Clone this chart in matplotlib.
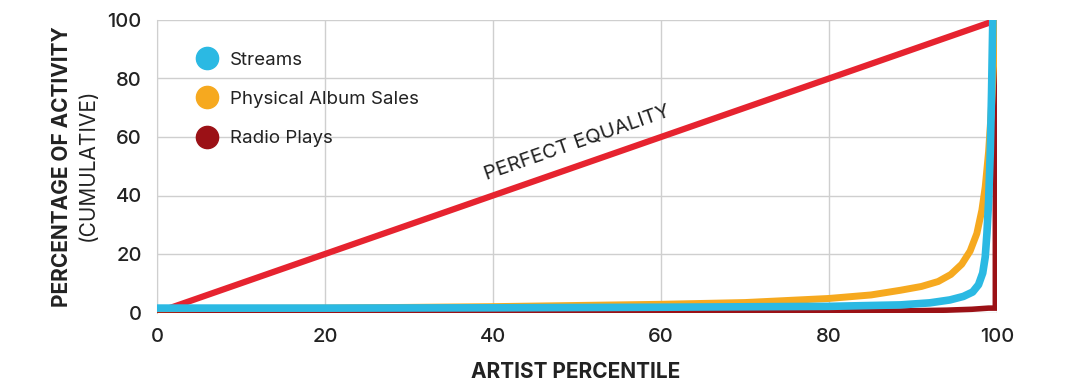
import numpy as np
import matplotlib.pyplot as plt
from matplotlib.lines import Line2D

plt.rcParams['font.family'] = ['Inter', 'DejaVu Sans']

# cumulative share of activity by artist percentile
pct_streams = [0, 20, 40, 60, 80, 88.5, 92, 94.4, 96, 97.1, 97.8, 98.3, 98.6, 98.8, 99.0, 99.2, 99.35, 99.5]
streams = [1.5, 1.5, 1.6, 1.8, 2.1, 2.6, 3.3, 4.3, 5.5, 7.0, 9.5, 13.5, 19, 27, 38, 55, 75, 100]

pct_album = [0, 20, 40, 60, 70, 80, 85, 88.5, 91, 93, 94.5, 95.8, 96.8, 97.6, 98.2, 98.6, 99.0, 99.3, 99.6, 100]
album = [1.3, 1.5, 2.0, 2.8, 3.4, 4.8, 6.0, 7.6, 8.9, 10.6, 13, 16.5, 21, 27, 35, 43, 55, 68, 85, 100]

pct_radio = [0, 40, 80, 88, 94, 97, 99, 99.8, 99.8]
radio = [0.3, 0.3, 0.4, 0.5, 0.8, 1.1, 1.5, 1.5, 100]

equality_x = [0, 100]
equality_y = [0, 100]

ticks = [0, 20, 40, 60, 80, 100]

ink = '#222222'
c_streams = '#2bb9e3'
c_album = '#f6a91f'
c_radio = '#9b1116'
c_equal = '#e6232f'

fig = plt.figure(figsize=(10.8, 3.83), dpi=100)
ax = fig.add_axes([157 / 1080, (383 - 312.5) / 383, 840 / 1080, 292.5 / 383])

ax.plot(equality_x, equality_y, color=c_equal, lw=4.5, solid_capstyle='butt', zorder=3)
ax.plot(pct_radio, radio, color=c_radio, lw=4, solid_joinstyle='miter', zorder=4)
ax.plot(pct_album, album, color=c_album, lw=5, solid_joinstyle='round', zorder=5)
ax.plot(pct_streams, streams, color=c_streams, lw=5.5, solid_joinstyle='round', zorder=6)

ax.set_xlim(0, 100)
ax.set_ylim(0, 100)
ax.set_xticks(ticks)
ax.set_yticks(ticks)
ax.grid(True, color='#cfcfcf', lw=1)
ax.set_axisbelow(True)
for side in ['top', 'right', 'bottom']:
    ax.spines[side].set_visible(False)
ax.spines['left'].set_color('#cfcfcf')
ax.tick_params(length=0, labelsize=14.5, labelcolor=ink, pad=11)
for lab in ax.get_xticklabels() + ax.get_yticklabels():
    lab.set_fontweight('medium')

# slope of the equality line on screen
angle = np.degrees(np.arctan2(292.5 / 100, 840 / 100))
ax.text(50, 58, 'PERFECT EQUALITY', rotation=angle, rotation_mode='anchor',
        ha='center', va='center', fontsize=14.5, color=ink)

fig.text(576 / 1080, 1 - 372 / 383, 'ARTIST PERCENTILE', ha='center', va='center',
         fontsize=15, fontweight='bold', color=ink)
fig.text(62 / 1080, 1 - 167 / 383, 'PERCENTAGE OF ACTIVITY', rotation=90,
         ha='center', va='center', fontsize=15, fontweight='bold', color=ink)
fig.text(88 / 1080, 1 - 165 / 383, '(CUMULATIVE)', rotation=90,
         ha='center', va='center', fontsize=15, color=ink)

handles = [Line2D([], [], ls='none', marker='o', ms=16, color=c) for c in (c_streams, c_album, c_radio)]
ax.legend(handles, ['Streams', 'Physical Album Sales', 'Radio Plays'],
          loc='upper left', bbox_to_anchor=(0.028, 0.95), frameon=False,
          fontsize=13.5, labelspacing=1.18, handlelength=1.0, handletextpad=0.75,
          labelcolor=ink)

fig.savefig('out.png', dpi=100)
